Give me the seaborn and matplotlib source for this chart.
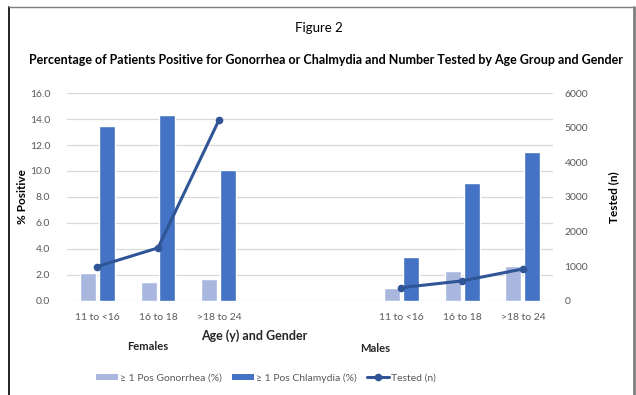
import matplotlib
matplotlib.use("Agg")
import matplotlib.pyplot as plt
from matplotlib.lines import Line2D
from matplotlib.patches import Patch
import pandas as pd
import seaborn as sns

# Age groups and the data behind each gender panel
age_groups = ["11 to <16", "16 to 18", ">18 to 24"]
genders = ["Females", "Males"]
gonorrhea_female = [2.1, 1.4, 1.65]
gonorrhea_male = [1.0, 2.25, 2.7]
chlamydia_female = [13.5, 14.3, 10.1]
chlamydia_male = [3.35, 9.1, 11.5]
tested_female = [985, 1525, 5215]
tested_male = [375, 570, 915]

series_names = ["\u2265 1 Pos Gonorrhea (%)", "\u2265 1 Pos Chlamydia (%)"]
tested_name = "Tested (n)"

light_blue = "#A9B7DE"
mid_blue = "#4472C4"
dark_blue = "#2F5597"
grid_gray = "#D9D9D9"
text_gray = "#595959"

# Category order: three female groups, two empty slots, three male groups
order = [f"F {a}" for a in age_groups] + ["gap1", "gap2"] + [f"M {a}" for a in age_groups]
tick_labels = age_groups + ["", ""] + age_groups

rows = []
for i, a in enumerate(age_groups):
    rows.append({"cat": f"F {a}", "series": series_names[0], "pct": gonorrhea_female[i]})
    rows.append({"cat": f"F {a}", "series": series_names[1], "pct": chlamydia_female[i]})
    rows.append({"cat": f"M {a}", "series": series_names[0], "pct": gonorrhea_male[i]})
    rows.append({"cat": f"M {a}", "series": series_names[1], "pct": chlamydia_male[i]})
bars = pd.DataFrame(rows)

tested = pd.DataFrame({
    "pos": [order.index(f"F {a}") for a in age_groups] + [order.index(f"M {a}") for a in age_groups],
    "tested": tested_female + tested_male,
    "gender": ["Females"] * 3 + ["Males"] * 3,
})

sns.set_theme(style="white")
plt.rcParams["font.family"] = ["Lato", "DejaVu Sans"]

fig = plt.figure(figsize=(6.36, 3.95), dpi=100)
ax = fig.add_axes([0.105, 0.239, 0.765, 0.525])

sns.barplot(data=bars, x="cat", y="pct", hue="series", order=order,
            hue_order=series_names, palette=[light_blue, mid_blue],
            width=0.62, gap=0.15, ax=ax, legend=False, saturation=1)

ax.set_ylim(0, 16)
ax.set_yticks([0, 2, 4, 6, 8, 10, 12, 14, 16])
ax.set_yticklabels([f"{v:.1f}" for v in ax.get_yticks()], color=text_gray, fontsize=7.5)
ax.set_xticks(range(len(order)))
ax.set_xticklabels(tick_labels, color=text_gray, fontsize=7.5)
ax.set_xlim(-0.5, len(order) - 0.5)
ax.yaxis.grid(True, color=grid_gray, linewidth=0.9)
ax.set_axisbelow(True)
for s in ax.spines.values():
    s.set_visible(False)
ax.tick_params(axis="y", length=0, pad=12)
ax.tick_params(axis="x", length=0, pad=9)
ax.set_xlabel("")
ax.set_ylabel("% Positive", fontsize=8.5, fontweight="bold", color="black")
ax.yaxis.set_label_coords(-0.08, 0.5)

ax2 = ax.twinx()
sns.lineplot(data=tested, x="pos", y="tested", units="gender", estimator=None,
             color=dark_blue, linewidth=2.2, marker="o", markersize=5.5,
             markeredgewidth=0, ax=ax2)
ax2.set_ylim(0, 6000)
ax2.set_yticks(range(0, 6001, 1000))
ax2.set_yticklabels([str(v) for v in range(0, 6001, 1000)], color=text_gray, fontsize=7.5)
ax2.set_xlim(-0.5, len(order) - 0.5)
for s in ax2.spines.values():
    s.set_visible(False)
ax2.tick_params(axis="y", length=0, pad=8)
ax2.set_ylabel("Tested (n)", fontsize=8.5, fontweight="bold", color="black")
ax2.yaxis.set_label_coords(1.112, 0.5)
ax2.grid(False)

fig.text(0.502, 0.93, "Figure 2", ha="center", va="center", fontsize=9.5, color="black")
fig.text(0.513, 0.848, "Percentage of Patients Positive for Gonorrhea or Chalmydia and Number Tested by Age Group and Gender",
         ha="center", va="center", fontsize=9, fontweight="bold", color="black")
fig.text(0.40, 0.149, "Age (y) and Gender", ha="center", va="center", fontsize=9, fontweight="bold")
fig.text(0.233, 0.122, genders[0], ha="center", va="center", fontsize=8, fontweight="bold")
fig.text(0.59, 0.118, genders[1], ha="center", va="center", fontsize=8, fontweight="bold")

handles = [
    Patch(facecolor=light_blue, edgecolor="none", label=series_names[0]),
    Patch(facecolor=mid_blue, edgecolor="none", label=series_names[1]),
    Line2D([0], [0], color=dark_blue, linewidth=2.2, marker="o", markersize=5.5,
           markeredgewidth=0, label=tested_name),
]
leg = fig.legend(handles=handles, loc="center", bbox_to_anchor=(0.418, 0.043), ncol=3,
                 frameon=False, fontsize=7.5, handlelength=2.1, handleheight=0.6,
                 handletextpad=0.2, columnspacing=1.0)
for t in leg.get_texts():
    t.set_color(text_gray)

# Outer chart frame: dark left edge, grey top and right edges
fig.add_artist(Line2D([9 / 636, 9 / 636], [0, 1 - 7 / 395], transform=fig.transFigure,
                      color="#111111", linewidth=1.3))
fig.add_artist(Line2D([9 / 636, 634 / 636], [1 - 7 / 395, 1 - 7 / 395], transform=fig.transFigure,
                      color="#7F7F7F", linewidth=1.0))
fig.add_artist(Line2D([634 / 636, 634 / 636], [0, 1 - 7 / 395], transform=fig.transFigure,
                      color="#7F7F7F", linewidth=2.0))

fig.savefig("out.png", dpi=100)
